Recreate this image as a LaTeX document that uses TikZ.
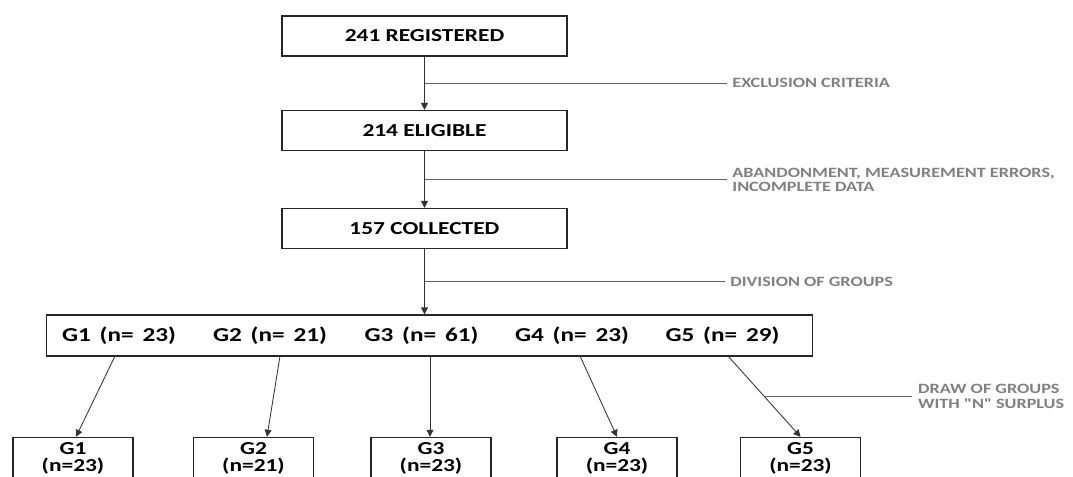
\documentclass[tikz,border=0pt]{standalone}
\usepackage{fontspec}
\setmainfont{Carlito}[FakeStretch=1.28]
\newfontfamily\quotefont{Carlito}[FakeStretch=1.28,Ligatures=TeXOff]
\usetikzlibrary{arrows.meta,calc}
\definecolor{sidegray}{RGB}{128,128,128}
\definecolor{linegray}{RGB}{95,95,95}
\newcommand\grpsize{\fontsize{14}{16}\selectfont\bfseries\spaceskip=0.45em\relax}

\begin{document}
\begin{tikzpicture}[x=0.025cm, y=-0.025cm,
  stagebox/.style={draw=black!85, line width=0.8pt, minimum width=7.125cm, minimum height=1cm, font=\fontsize{13}{15}\selectfont\bfseries},
  subbox/.style={draw=black!85, line width=0.8pt, minimum width=3cm, minimum height=0.95cm, align=center, font=\fontsize{13}{12.2}\selectfont\bfseries},
  grplabel/.style={font=\grpsize},
  sidelabel/.style={anchor=west, inner sep=4pt, align=left, text=sidegray, font=\fontsize{10.1}{10}\selectfont\bfseries},
  sideline/.style={draw=linegray, line width=0.7pt},
  link/.style={draw=black!80, line width=0.6pt, -{Triangle[length=5pt,width=5pt]}}]
  \path[use as bounding box, clip] (0,0) rectangle (1073,476);
  % draw stage boxes
  \node[stagebox] (stage_reg) at (424.5,36) {241 REGISTERED};
  \node[stagebox] (stage_eli) at (424.5,130.5) {214 ELIGIBLE};
  \node[stagebox] (stage_col) at (424.5,228.5) {157 COLLECTED};
  % draw the box holding all groups
  \node[draw=black!85, line width=0.8pt, minimum width=19.125cm, minimum height=1.025cm] (grp_all) at (429.5,335.5) {};
  \node[grplabel] (grp_1) at (119,336) {G1 (n= 23)};
  \node[grplabel] (grp_2) at (270,336) {G2 (n= 21)};
  \node[grplabel] (grp_3) at (421.5,336) {G3 (n= 61)};
  \node[grplabel] (grp_4) at (572,336) {G4 (n= 23)};
  \node[grplabel] (grp_5) at (722.5,336) {G5 (n= 29)};
  % draw the drawn groups
  \node[subbox] (sub_1) at (73,458) {G1\\(n=23)};
  \node[subbox] (sub_2) at (253.5,458) {G2\\(n=21)};
  \node[subbox] (sub_3) at (431,458) {G3\\(n=23)};
  \node[subbox] (sub_4) at (617,458) {G4\\(n=23)};
  \node[subbox] (sub_5) at (800.5,458) {G5\\(n=23)};
  % draw arrows down the stages
  \draw[link] (stage_reg) -- (stage_eli);
  \draw[link] (stage_eli) -- (stage_col);
  \draw[link] (stage_col.south) -- (stage_col.south |- grp_all.north);
  % draw arrows from groups
  \coordinate (out_1) at (115,356);
  \coordinate (out_2) at (280,356);
  \coordinate (out_3) at (430,356);
  \coordinate (out_4) at (580,356);
  \coordinate (out_5) at (728,356);
  \draw[link] (out_1) -- ([xshift=0.075cm]sub_1.north);
  \draw[link] (out_2) -- ([xshift=0.3375cm]sub_2.north);
  \draw[link] (out_3) -- (out_3 |- sub_3.north);
  \draw[link] (out_4) -- (sub_4.north);
  \draw[link] (out_5) -- (sub_5.north);
  % draw side notes
  \coordinate (mid_1) at ($(stage_reg.south)!0.5!(stage_eli.north)$);
  \coordinate (mid_2) at ($(stage_eli.south)!0.5!(stage_col.north)$);
  \coordinate (mid_3) at ($(stage_col.south)!0.5!(stage_col.south |- grp_all.north)$);
  \coordinate (mid_4) at ($(out_5)!0.5!(sub_5.north)$);
  \path (mid_1) ++(302,0) node[sidelabel] (note_1) {EXCLUSION CRITERIA};
  \path (mid_2) ++(302,0) node[sidelabel] (note_2) {ABANDONMENT, MEASUREMENT ERRORS,\\INCOMPLETE DATA};
  \path (mid_3) ++(300,0) node[sidelabel] (note_3) {DIVISION OF GROUPS};
  \path (mid_4) ++(148,0) node[sidelabel] (note_4) {DRAW OF GROUPS\\WITH {\quotefont"}N{\quotefont"} SURPLUS};
  \draw[sideline] (mid_1) -- (note_1.west);
  \draw[sideline] (mid_2) -- (note_2.west);
  \draw[sideline] (mid_3) -- (note_3.west);
  \draw[sideline] (mid_4) -- (note_4.west);
\end{tikzpicture}
\end{document}
